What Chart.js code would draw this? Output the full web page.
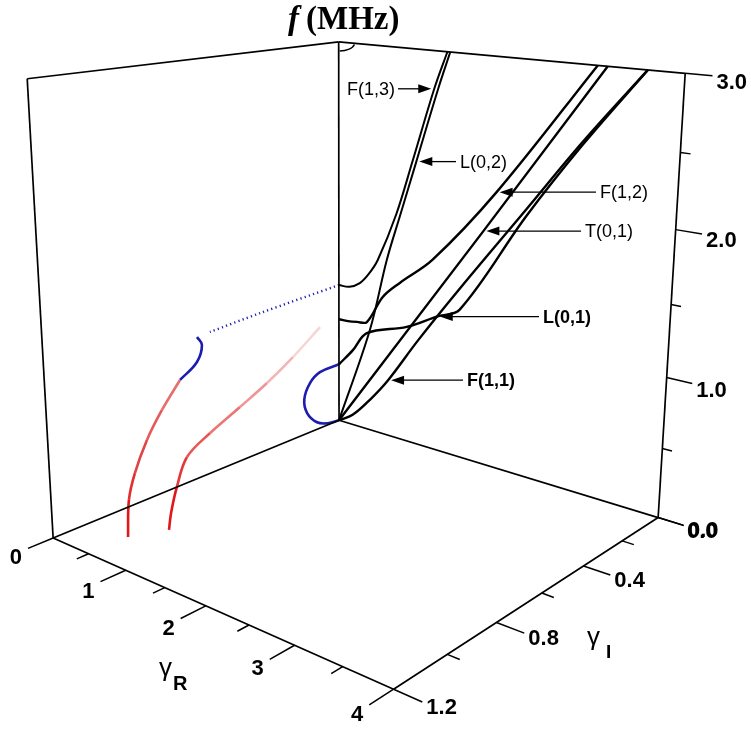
<!DOCTYPE html>
<html>
<head>
<meta charset="utf-8">
<script src="https://cdn.jsdelivr.net/npm/chart.js@4.4.0/dist/chart.umd.min.js"></script>
<style>
  html, body { margin: 0; padding: 0; background: #fff; }
  #wrap { width: 751px; height: 731px; }
</style>
</head>
<body>
<div id="wrap"><canvas id="chart"></canvas></div>
<script>
// axis ranges
const gRRange = [0, 4];
const gIRange = [0, 1.2];
const fRange = [0, 3];

// ticks (empty label = minor tick)
const gRTicks = [0, 0.5, 1, 1.5, 2, 2.5, 3, 3.5, 4];
const gRLabels = ['0', '', '1', '', '2', '', '3', '', '4'];
const gITicks = [0, 0.2, 0.4, 0.6, 0.8, 1.0, 1.2];
const gILabels = ['0.0', '', '0.4', '', '0.8', '', '1.2'];
const fTicks = [0, 0.5, 1, 1.5, 2, 2.5, 3];
const fLabels = ['0.0', '', '1.0', '', '2.0', '', '3.0'];

// real branches (γI = 0): [γR, f]
const F11 = [[0, 0], [0.2, 0.08], [0.45, 0.25], [0.7, 0.45], [1.1, 0.83], [1.625, 1.3], [2.4, 1.97], [3.0, 2.49], [3.634, 3.0]];
const L01 = [[0, 0.47], [0.202, 0.618], [0.4, 0.786], [0.947, 0.914], [1.34, 1.05], [1.631, 1.143], [2.4, 1.92], [3.0, 2.47], [3.634, 3.0]];
const T01 = [[0, 0], [1.9, 1.76], [3.225, 3.0]];
const F12 = [[0, 0.842], [0.13, 0.845], [0.26, 0.857], [0.399, 0.875], [0.618, 1.105], [0.847, 1.245], [1.275, 1.476], [2.046, 2.056], [3.12, 3.0]];
const L02 = [[0, 0], [0.442, 0.817], [0.669, 1.402], [0.845, 1.769], [1.046, 2.186], [1.311, 2.737], [1.45, 3.0]];
const F13 = [[0, 1.12], [0.15, 1.125], [0.298, 1.174], [0.42, 1.26], [0.546, 1.387], [0.79, 1.765], [0.995, 2.18], [1.26, 2.73], [1.415, 3.0]];

// purely imaginary branches (γR = 0): [γI, f]
const imagLoop = [[0, 0.47], [0.095, 0.463], [0.144, 0.404], [0.172, 0.29], [0.159, 0.167], [0.111, 0.059], [0.056, 0.013], [0, 0]];
const imagDotted = [[0, 1.12], [0.372, 1.091], [0.587, 1.066]];
const imagHook = [[0.64, 1.059], [0.621, 0.989], [0.643, 0.876], [0.713, 0.786]];

// complex branches: [γR, γI, f]
const complex1 = [[0, 0.713, 0.786], [0.1, 0.814, 0.648], [0.2, 0.901, 0.509], [0.3, 0.976, 0.345], [0.4, 1.027, 0.213], [0.504, 1.062, 0]];
const complex2 = [[0, 0.094, 0.829], [0.06, 0.244, 0.684], [0.13, 0.386, 0.578], [0.2, 0.527, 0.496], [0.28, 0.677, 0.416], [0.36, 0.794, 0.337], [0.46, 0.864, 0.19], [0.57, 0.919, 0.067], [0.678, 0.958, 0]];

// view: where the box corners land on the canvas
const viewAnchors = [
  [[0, 0, 0], [339, 420]],
  [[4, 0, 0], [658, 518]],
  [[4, 1.2, 0], [394, 689]],
  [[0, 1.2, 0], [53, 538]],
  [[0, 0, 3], [339, 42]],
  [[4, 0, 3], [685, 73]],
  [[0, 1.2, 3], [27, 79]]
];

// least-squares perspective camera from the anchors (pixels in units of 100)
function solveCamera(pairs) {
  const n = 11;
  const M = Array.from({ length: n }, () => new Array(n + 1).fill(0));
  const add = (row, rhs) => {
    for (let i = 0; i < n; i++) {
      for (let j = 0; j < n; j++) M[i][j] += row[i] * row[j];
      M[i][n] += row[i] * rhs;
    }
  };
  pairs.forEach(([[X, Y, Z], [px, py]]) => {
    const u = px / 100, v = py / 100;
    add([X, Y, Z, 1, 0, 0, 0, 0, -u * X, -u * Y, -u * Z], u);
    add([0, 0, 0, 0, X, Y, Z, 1, -v * X, -v * Y, -v * Z], v);
  });
  for (let c = 0; c < n; c++) {
    let p = c;
    for (let r = c + 1; r < n; r++) if (Math.abs(M[r][c]) > Math.abs(M[p][c])) p = r;
    [M[c], M[p]] = [M[p], M[c]];
    for (let r = 0; r < n; r++) {
      if (r === c) continue;
      const k = M[r][c] / M[c][c];
      for (let j = c; j <= n; j++) M[r][j] -= k * M[c][j];
    }
  }
  return M.map((row, i) => row[n] / row[i]);
}

const cam = solveCamera(viewAnchors);
function project([gR, gI, f]) {
  const w = cam[8] * gR + cam[9] * gI + cam[10] * f + 1;
  return {
    x: 100 * (cam[0] * gR + cam[1] * gI + cam[2] * f + cam[3]) / w,
    y: 100 * (cam[4] * gR + cam[5] * gI + cam[6] * f + cam[7]) / w
  };
}

const onWall = pts => pts.map(([r, f]) => project([r, 0, f]));
const onSide = pts => pts.map(([i, f]) => project([0, i, f]));
const inSpace = pts => pts.map(project);

const datasets = [];
function seg(a, b, width = 1.7) {
  datasets.push({ data: [project(a), project(b)], borderColor: '#000', borderWidth: width, tension: 0 });
}

// box frame
const [r0, r1] = gRRange, [i0, i1] = gIRange, [f0, f1] = fRange;
seg([r0, i0, f0], [r0, i0, f1]);
seg([r1, i0, f0], [r1, i0, f1]);
seg([r0, i1, f0], [r0, i1, f1]);
seg([r0, i0, f1], [r1, i0, f1]);
seg([r0, i0, f1], [r0, i1, f1]);
seg([r0, i0, f0], [r1, i0, f0]);
seg([r0, i0, f0], [r0, i1, f0]);
seg([r1, i0, f0], [r1, i1, f0]);
seg([r0, i1, f0], [r1, i1, f0]);

// tick marks
const tickEnds = { gR: [], gI: [], f: [] };
gRTicks.forEach((t, k) => {
  const len = gRLabels[k] ? 0.085 : 0.04;
  seg([t, i1, 0], [t, i1 + len, 0], 1.5);
  tickEnds.gR.push(project([t, i1 + len, 0]));
});
gITicks.forEach((t, k) => {
  const len = gILabels[k] ? 0.27 : 0.12;
  seg([r1, t, 0], [r1 + len, t, 0], 1.5);
  tickEnds.gI.push(project([r1 + len, t, 0]));
});
fTicks.forEach((t, k) => {
  const len = fLabels[k] ? 0.26 : 0.1;
  seg([r1, 0, t], [r1 + len, 0, t], 1.5);
  tickEnds.f.push(project([r1 + len, 0, t]));
});

// dispersion curves
const curves = { F11, L01, T01, F12, L02, F13 };
const curvePts = {};
Object.entries(curves).forEach(([name, pts]) => {
  curvePts[name] = onWall(pts);
  const thin = name === 'L02' || name === 'F13';
  datasets.push({ label: name, data: curvePts[name], borderColor: '#000', borderWidth: thin ? 2 : 2.4, tension: name === 'T01' ? 0 : 0.35 });
});

const blue = '#1c1cb0';
datasets.push({ data: onSide(imagLoop), borderColor: blue, borderWidth: 2.6, tension: 0.4 });
datasets.push({ data: onSide(imagDotted), borderColor: blue, borderWidth: 2.4, borderDash: [1.2, 3.2], tension: 0.3 });
datasets.push({ data: onSide(imagHook), borderColor: blue, borderWidth: 2.6, tension: 0.4 });

function mix(a, b, t) {
  t = Math.max(0, Math.min(1, t));
  const c = a.map((v, i) => Math.round(v + (b[i] - v) * t));
  return `rgb(${c[0]},${c[1]},${c[2]})`;
}
datasets.push({
  data: inSpace(complex1), borderWidth: 2.6, tension: 0.35, borderColor: '#e02020',
  segment: { borderColor: ctx => mix([232, 110, 110], [224, 24, 24], ctx.p0DataIndex / (complex1.length - 2)) }
});
datasets.push({
  data: inSpace(complex2), borderWidth: 2.6, tension: 0.35, borderColor: '#e02020',
  segment: { borderColor: ctx => mix([248, 212, 212], [224, 24, 24], ctx.p0DataIndex / (complex2.length - 3)) }
});

// curve labels with arrows
const annotations = [
  { text: 'F(1,3)', curve: 'F13', index: 7, labelX: 395, side: 'left', bold: false },
  { text: 'L(0,2)', curve: 'L02', index: 4, labelX: 460, side: 'right', bold: false },
  { text: 'F(1,2)', curve: 'F12', index: 7, labelX: 600, side: 'right', bold: false },
  { text: 'T(0,1)', curve: 'T01', index: 1, labelX: 585, side: 'right', bold: false },
  { text: 'L(0,1)', curve: 'L01', index: 4, labelX: 543, side: 'right', bold: true },
  { text: 'F(1,1)', curve: 'F11', index: 3, labelX: 467, side: 'right', bold: true }
];

const SANS = '"Liberation Sans", Arial, sans-serif';
const SERIF = '"Liberation Serif", "Times New Roman", serif';

const textPlugin = {
  id: 'boxText',
  afterDatasetsDraw(chart) {
    const { ctx } = chart;
    const sx = chart.scales.x, sy = chart.scales.y;
    const px = p => [sx.getPixelForValue(p.x), sy.getPixelForValue(p.y)];
    ctx.save();
    ctx.fillStyle = '#000';
    ctx.strokeStyle = '#000';

    // tick labels
    ctx.font = `bold 22px ${SANS}`;
    ctx.textBaseline = 'middle';
    ctx.textAlign = 'right';
    gRLabels.forEach((s, k) => {
      if (!s) return;
      const [x, y] = px(tickEnds.gR[k]);
      ctx.fillText(s, x - 6, y + 10);
    });
    ctx.textAlign = 'left';
    gILabels.forEach((s, k) => {
      if (!s) return;
      const [x, y] = px(tickEnds.gI[k]);
      ctx.fillText(s, x + 4, y + 6);
    });
    fLabels.forEach((s, k) => {
      if (!s) return;
      const [x, y] = px(tickEnds.f[k]);
      ctx.fillText(s, x + 4, y + 7);
    });

    // axis titles
    ctx.textBaseline = 'alphabetic';
    ctx.font = `26px ${SANS}`;
    ctx.fillText('γ', 159, 676);
    ctx.font = `bold 20px ${SANS}`;
    ctx.fillText('R', 173, 690);
    ctx.font = `26px ${SANS}`;
    ctx.fillText('γ', 587, 645);
    ctx.font = `bold 19px ${SANS}`;
    ctx.fillText('I', 606, 658);

    ctx.font = `italic bold 33px ${SERIF}`;
    ctx.fillText('f', 288, 29);
    ctx.font = `bold 33px ${SERIF}`;
    ctx.fillText('(MHz)', 306, 29);

    // small arc under the top corner
    const [tx, ty] = px(project([0, 0, 3]));
    ctx.lineWidth = 1.5;
    ctx.beginPath();
    ctx.ellipse(tx + 1, ty + 1, 15, 8, 0, 0.2, Math.PI / 2);
    ctx.stroke();

    // curve labels
    ctx.textBaseline = 'middle';
    ctx.lineWidth = 1.3;
    annotations.forEach(a => {
      const [x, y] = px(curvePts[a.curve][a.index]);
      ctx.font = `${a.bold ? 'bold ' : ''}18px ${SANS}`;
      let x0, dir;
      if (a.side === 'right') {
        ctx.textAlign = 'left';
        ctx.fillText(a.text, a.labelX, y + 1);
        x0 = a.labelX - 4; dir = -1;
      } else {
        ctx.textAlign = 'right';
        ctx.fillText(a.text, a.labelX, y + 1);
        x0 = a.labelX + 3; dir = 1;
      }
      const tipX = x - dir * 3;
      ctx.beginPath();
      ctx.moveTo(x0, y);
      ctx.lineTo(tipX - dir * 12, y);
      ctx.stroke();
      ctx.beginPath();
      ctx.moveTo(tipX, y);
      ctx.lineTo(tipX - dir * 13, y - 4.5);
      ctx.lineTo(tipX - dir * 13, y + 4.5);
      ctx.closePath();
      ctx.fill();
    });
    ctx.restore();
  }
};

new Chart(document.getElementById('chart'), {
  type: 'scatter',
  data: { datasets: datasets.map(d => Object.assign({ showLine: true, pointRadius: 0, fill: false }, d)) },
  options: {
    responsive: true,
    maintainAspectRatio: false,
    animation: false,
    events: [],
    layout: { padding: 0 },
    plugins: { legend: { display: false }, tooltip: { enabled: false } },
    scales: {
      x: { type: 'linear', min: 0, max: 751, display: false },
      y: { type: 'linear', min: 0, max: 731, reverse: true, display: false }
    }
  },
  plugins: [textPlugin]
});
</script>
</body>
</html>
